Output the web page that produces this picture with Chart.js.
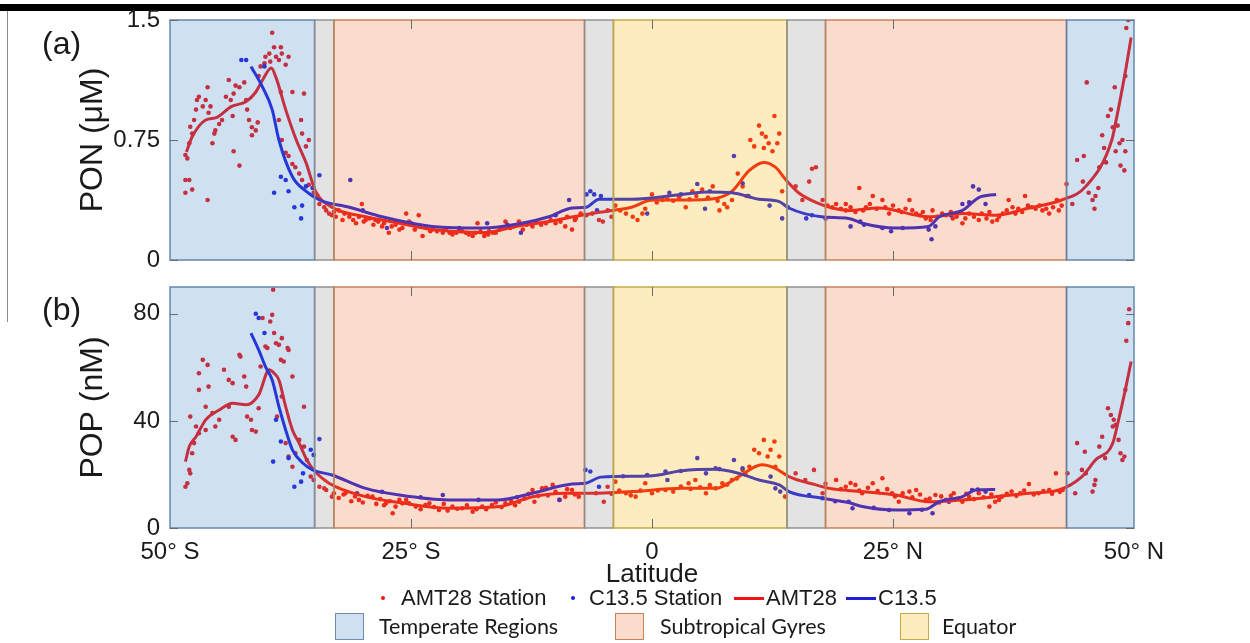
<!DOCTYPE html>
<html><head><meta charset="utf-8">
<script src="https://cdn.jsdelivr.net/npm/chart.js@4.4.1/dist/chart.umd.min.js"></script>
<style>
html,body{margin:0;padding:0;background:#fff;width:1250px;height:643px;overflow:hidden;position:relative;font-family:'Liberation Sans',Arial,sans-serif;color:#1a1a1a;}
#topbar{position:absolute;left:0;top:4px;width:1250px;height:7px;background:#000;}
#vline{position:absolute;left:7px;top:11px;width:1px;height:311px;background:#8a8a8a;}
.wrap{position:absolute;left:0;width:1250px;}
#wa{top:0;height:285px;}
#wb{top:280px;height:320px;}
.plab{position:absolute;font-size:32px;line-height:32px;white-space:nowrap;}
.lg{position:absolute;font-size:22px;line-height:24px;height:24px;top:586px;white-space:nowrap;}
.dot{position:absolute;width:4px;height:4px;border-radius:50%;top:596px;}
.ln{position:absolute;height:3px;top:597px;width:30px;}
.rg{position:absolute;font-family:Lato,'Open Sans',sans-serif;font-size:21.5px;line-height:24px;top:614px;white-space:nowrap;}
.sq{position:absolute;width:29px;height:27px;top:613px;box-sizing:border-box;border:1.5px solid;}
</style>
</head>
<body>
<div id="topbar"></div>
<div id="vline"></div>
<div class="wrap" id="wa"><canvas id="ca"></canvas></div>
<div class="wrap" id="wb"><canvas id="cb"></canvas></div>
<div class="plab" style="left:42px;top:27px;">(a)</div>
<div class="plab" style="left:42px;top:293px;">(b)</div>

<div class="dot" style="left:381px;background:rgb(240,20,20);"></div>
<div class="lg" style="left:401px;">AMT28 Station</div>
<div class="dot" style="left:571px;background:rgb(30,30,220);"></div>
<div class="lg" style="left:589px;">C13.5 Station</div>
<div class="ln" style="left:734px;background:rgb(240,20,20);"></div>
<div class="lg" style="left:766px;">AMT28</div>
<div class="ln" style="left:846px;background:rgb(30,30,220);"></div>
<div class="lg" style="left:878px;">C13.5</div>

<div class="sq" style="left:335px;background:rgb(207,224,241);border-color:rgb(110,140,175);"></div>
<div class="rg" style="left:379px;">Temperate Regions</div>
<div class="sq" style="left:615px;background:rgb(249,220,203);border-color:rgb(200,130,90);"></div>
<div class="rg" style="left:660px;">Subtropical Gyres</div>
<div class="sq" style="left:900px;background:rgb(253,236,190);border-color:rgb(200,170,70);"></div>
<div class="rg" style="left:942px;">Equator</div>

<script>
// ---------------- DATA ----------------
const xTickValues = [-50, -25, 0, 25, 50];
const xTickLabels = ['50° S', '25° S', '0', '25° N', '50° N'];
const yTickValuesA = [0, 0.75, 1.5];
const yTickLabelsA = ['0', '0.75', '1.5'];
const yTickValuesB = [0, 40, 80];
const yTickLabelsB = ['0', '40', '80'];

// region boundaries (latitude)
const regionStart = [-50, -35, -33, -7, -4, 14, 18, 43];
const regionEnd   = [-35, -33, -7, -4, 14, 18, 43, 50];
const regionKind  = ['temperate', 'transition', 'gyre', 'transition', 'equator', 'transition', 'gyre', 'temperate'];

// Panel (a) PON (µM) — [latitude, value]
const amtStationPON = [
[-48.4,0.656],[-48.2,0.635],[-48.0,0.729],[-47.9,0.833],[-47.7,0.79],[-47.5,0.875],[-47.3,0.94],[-47.2,1.0],[-47.0,1.02],[-46.6,0.96],[-46.3,1.0],[-46.1,1.08],[-46.0,0.92],[-45.8,0.96],[-45.6,0.73],[-45.4,0.79],[-45.3,0.81],[-44.9,0.85],[-44.6,0.875],[-44.2,1.02],[-43.9,1.125],[-43.7,1.0],[-43.5,0.9],[-43.4,1.04],[-43.2,1.09],[-42.8,1.08],[-42.3,1.11],[-42.1,1.0],[-42.0,0.94],[-41.8,0.875],[-41.5,0.83],[-41.1,0.81],[-40.8,1.15],[-40.6,1.21],[-40.2,1.23],[-40.1,1.27],[-39.7,1.29],[-39.6,1.24],[-39.4,1.42],[-39.2,1.33],[-39.0,1.27],[-38.7,1.25],[-38.5,1.33],[-38.4,1.29],[-38.0,1.22],[-37.7,1.27],[-37.3,1.05],[-36.4,0.875],[-36.3,0.79],[-36.1,1.04],[-35.9,0.71],[-35.6,0.75],
[-48.4,0.5],[-48.0,0.5],[-48.4,0.42],[-47.7,0.44],[-46.1,0.375],[-43.4,0.68],[-42.8,0.59],[-41.5,0.78],[-40.9,0.86],[-38.7,0.875],[-38.5,1.05],[-38.4,0.75],[-38.0,0.67],[-37.7,0.65],[-37.3,0.60],[-37.0,0.58],[-36.6,0.54],[-36.3,0.5],[-35.6,0.47],[-35.1,0.42],[-34.7,0.40],[-34.5,0.35],[-33.8,0.31],[-33.5,0.29],[-33.2,0.28],[-32.5,0.31],[-32.1,0.25],[-31.4,0.27],[-30.7,0.23],[-30.1,0.35],[-29.7,0.25],[-28.7,0.25],[-28.0,0.21],[-27.3,0.17],[-26.2,0.19],[-25.5,0.29],[-24.9,0.22],
[-25.2,0.24],[-24.2,0.28],[-23.8,0.15],[-22.8,0.19],[-21.7,0.17],[-20.7,0.16],[-20.0,0.19],[-19.3,0.17],[-18.6,0.15],[-18.1,0.23],[-17.4,0.15],[-16.9,0.18],[-16.2,0.17],[-15.2,0.24],[-14.7,0.20],[-13.8,0.24],[-12.4,0.21],[-11.0,0.23],[-10.0,0.23],[-9.0,0.21],[-8.3,0.19],[-7.9,0.26],[-7.4,0.29],[-6.2,0.29],[-5.5,0.25],[-5.1,0.24],[-4.6,0.31],[-3.8,0.34],[-2.7,0.29],[-2.0,0.27],[-1.5,0.25],[-0.7,0.32],[0.0,0.41],[1.1,0.375],[3.5,0.33],[4.2,0.43],[5.2,0.44],[6.3,0.46],[7.0,0.31],[7.5,0.35],[8.3,0.375],[8.9,0.54],[9.4,0.46],[10.2,0.75],[10.6,0.71],[11.1,0.84],[11.4,0.79],[11.6,0.70],[11.8,0.77],[12.1,0.73],[12.5,0.68],[12.7,0.90],[13.0,0.73],[13.2,0.79],[13.5,0.43],[14.9,0.46],[15.6,0.375],[16.3,0.49],[16.6,0.57],[17.0,0.58],[17.7,0.375],[18.7,0.33],[20.1,0.35],
[19.1,0.35],[20.1,0.31],[21.5,0.45],[22.2,0.33],[22.9,0.40],[23.9,0.375],[24.6,0.29],[25.6,0.31],[26.7,0.375],[27.4,0.29],[28.4,0.26],[29.1,0.31],[30.1,0.29],[31.2,0.26],[32.2,0.23],[32.9,0.29],[33.9,0.25],[35.3,0.24],[36.0,0.27],[37.0,0.375],[37.7,0.29],[38.7,0.40],[39.4,0.33],[40.5,0.31],[41.2,0.29],[42.0,0.375],[42.2,0.31],[43.0,0.475],[43.6,0.35],[44.1,0.625],[44.7,0.49],[44.8,0.65],[45.1,1.11],[45.3,0.42],[45.7,0.375],[45.9,0.32],[46.0,0.40],[46.3,0.45],[46.4,0.58],[46.7,0.78],[46.9,0.70],[47.1,0.61],[47.3,0.90],[47.6,0.94],[47.8,0.83],[48.0,1.08],[48.1,0.68],[48.3,0.84],[48.5,0.73],[48.6,0.59],[48.8,0.75],[49.0,0.56],[49.1,0.68],[49.1,1.15],[49.2,1.45],[49.4,1.5],
[-34.0,0.33],[-33.0,0.30],[-32.8,0.27],[-31.9,0.29],[-31.0,0.25],[-30.4,0.27],[-29.9,0.24],[-29.3,0.26],[-28.9,0.22],[-28.4,0.24],[-27.8,0.23],[-27.0,0.21],[-26.6,0.22],[-25.9,0.20],[-24.6,0.19],[-23.4,0.20],[-23.0,0.18],[-22.3,0.18],[-21.4,0.19],[-21.0,0.17],[-20.3,0.17],[-19.7,0.18],[-19.0,0.16],[-18.3,0.17],[-17.8,0.18],[-17.0,0.16],[-16.5,0.17],[-15.8,0.19],[-14.4,0.21],[-13.4,0.19],[-13.0,0.22],[-12.0,0.24],[-11.5,0.22],[-10.5,0.25],[-9.5,0.24],[-8.8,0.27],[-8.0,0.25],
[-6.8,0.28],[-4.2,0.27],[-3.3,0.31],[-1.0,0.29],[0.5,0.36],[1.6,0.38],[2.2,0.37],[2.8,0.39],[3.9,0.38],[4.6,0.40],[5.8,0.39],[6.8,0.37],[7.8,0.33],[9.8,0.40],
[18.2,0.34],[19.6,0.32],[20.6,0.33],[21.1,0.30],[21.9,0.31],[22.6,0.35],[23.3,0.32],[24.2,0.33],[25.0,0.34],[25.9,0.30],[26.3,0.32],[27.0,0.31],[27.8,0.28],[28.1,0.30],[28.9,0.25],[29.6,0.27],[30.5,0.28],[31.0,0.30],[31.6,0.27],[32.5,0.26],[33.4,0.27],[34.2,0.29],[34.7,0.26],[35.0,0.30],[35.8,0.25],[36.4,0.29],[36.8,0.31],[37.4,0.33],[38.0,0.32],[38.4,0.30],[39.0,0.34],[39.8,0.32],[40.2,0.34],[40.9,0.32],[41.6,0.33],[42.5,0.34]
];
const c135StationPON = [
[-42.6,1.25],[-42.1,1.25],[-40.2,1.21],[-38.5,0.52],[-38.0,0.50],[-39.2,0.42],[-37.7,0.43],[-37.1,0.33],[-36.4,0.26],[-36.3,0.34],[-35.9,0.46],[-35.2,0.45],[-34.5,0.53],[-31.3,0.50],[-27.5,0.20],[-8.6,0.375],[-6.8,0.41],[-6.4,0.43],[-6.0,0.41],[-5.3,0.40],[-5.7,0.31],[-0.5,0.29],[1.8,0.42],[4.7,0.475],[5.5,0.32],[8.5,0.65],[9.4,0.48],[12.2,0.34],[13.5,0.26],[14.1,0.33],[16.0,0.26],[16.6,0.28],[-13.6,0.17],[-17.1,0.23],[20.6,0.21],[21.6,0.24],[23.9,0.20],[24.8,0.18],[28.7,0.19],[29.0,0.13],[29.4,0.21],[32.2,0.35],[32.9,0.36],[33.3,0.46],[33.9,0.44],[34.6,0.35],
[-30.0,0.31],[-25.0,0.23],[-20.0,0.20],[-15.0,0.22],[-10.0,0.28],[0.0,0.38],[3.0,0.41],[6.0,0.43],[10.0,0.40],[18.0,0.26],[22.0,0.22],[26.0,0.20],[31.0,0.28]
];
const amtLinePON = [
[-48.3,0.675],[-47.7,0.77],[-46.3,0.875],[-45.2,0.89],[-43.6,0.96],[-42.1,0.99],[-41.1,1.05],[-40.4,1.125],[-39.5,1.2],[-39.0,1.14],[-38.0,0.94],[-36.9,0.75],[-35.9,0.61],[-34.9,0.43],[-33.2,0.33],[-29.7,0.27],[-26.2,0.23],[-22.8,0.19],[-17.6,0.17],[-14.1,0.21],[-10.7,0.24],[-7.3,0.28],[-4.1,0.31],[-2.1,0.33],[0.0,0.375],[3.1,0.375],[6.6,0.385],[8.3,0.43],[10.1,0.56],[11.6,0.61],[12.8,0.58],[13.9,0.50],[15.2,0.42],[17.0,0.36],[18.7,0.325],[20.4,0.31],[23.5,0.325],[28.7,0.27],[32.2,0.29],[35.7,0.28],[39.1,0.325],[42.5,0.375],[45.0,0.46],[47.7,0.75],[48.1,0.86],[49.2,1.21],[49.7,1.39]
];
const c135LinePON = [
[-41.6,1.21],[-40.4,1.08],[-39.4,0.94],[-38.7,0.75],[-37.3,0.52],[-35.9,0.43],[-34.5,0.375],[-31.4,0.33],[-28.0,0.27],[-24.5,0.225],[-22.8,0.21],[-17.6,0.20],[-13.5,0.23],[-10.7,0.27],[-8.3,0.325],[-6.8,0.33],[-5.5,0.38],[-2.1,0.38],[3.1,0.41],[5.9,0.425],[8.3,0.42],[11.1,0.38],[13.2,0.365],[14.2,0.325],[17.6,0.27],[20.4,0.26],[21.8,0.23],[25.3,0.20],[28.7,0.21],[29.8,0.27],[32.2,0.31],[33.9,0.39],[35.7,0.41]
];

// Panel (b) POP (nM) — [latitude, value]
const amtStationPOP = [
[-48.4,15.4],[-48.2,16.7],[-48.0,21.7],[-47.9,20.4],[-47.7,27.9],[-47.5,31.7],[-47.9,41.6],[-47.3,37.9],[-47.0,35.4],[-46.6,62.8],[-46.1,60.9],[-46.3,36.6],[-47.0,57.8],[-47.0,51.6],[-46.0,52.8],[-46.3,45.3],[-45.6,42.9],[-45.3,37.9],[-44.9,40.4],[-44.4,59.1],[-43.9,55.3],[-43.5,54.1],[-43.9,45.3],[-43.5,34.1],[-43.2,32.9],[-42.8,64.7],[-42.7,64.0],[-42.3,56.6],[-42.1,52.8],[-42.0,41.6],[-41.6,40.4],[-41.5,36.6],[-41.1,36.0],[-40.8,44.7],[-40.6,60.3],[-40.4,78.4],[-40.1,67.8],[-39.9,67.2],[-39.6,77.1],[-39.4,79.6],[-39.3,89.0],[-39.2,72.8],[-39.0,69.0],[-38.7,68.4],[-38.5,62.8],[-38.4,70.9],[-38.2,62.2],[-37.8,67.2],[-37.7,66.5],[-37.3,56.6],[-36.1,45.3],[-38.4,49.1],[-38.9,41.6],[-38.0,31.7],[-37.7,26.7],[-37.3,22.9],[-37.0,27.9],[-36.6,32.9],[-36.1,30.4],[-35.8,25.4],[-35.4,19.2],[-35.1,17.9],[-34.5,15.4],[-33.8,14.2],[-33.2,11.7],[-31.8,13.0],[-30.4,10.5],[-29.0,11.7],[-27.6,9.2],[-26.2,10.5],[-25.2,9.2],[-24.5,8.0],[-26.9,5.5],
[-25.5,10.5],[-23.1,9.2],[-22.1,6.7],[-20.7,8.0],[-19.7,7.4],[-18.6,6.1],[-17.6,8.0],[-16.6,8.6],[-15.2,9.2],[-13.8,9.8],[-12.4,14.2],[-12.2,9.8],[-11.4,14.8],[-10.3,16.1],[-9.6,10.5],[-9.0,11.7],[-8.3,14.2],[-7.6,11.7],[-5.8,13.0],[-5.0,9.8],[-4.6,15.4],[-3.8,17.3],[-2.7,13.0],[-1.7,11.7],[-0.7,16.7],[0.0,13.0],[1.4,14.2],[3.8,16.7],[4.5,17.9],[5.6,13.0],[6.6,14.8],[7.3,16.7],[8.3,17.9],[9.4,21.7],[10.1,22.9],[10.6,29.2],[11.1,27.9],[11.6,32.9],[12.0,26.7],[12.3,29.2],[12.7,32.3],[13.2,26.7],[12.8,22.9],[13.8,11.7],[14.9,20.4],[15.9,17.9],[16.8,21.7],[17.7,13.0],[19.1,17.9],[20.1,15.4],
[21.1,16.1],[21.8,13.0],[22.9,16.7],[23.9,18.6],[24.9,13.0],[25.6,9.8],[26.7,13.6],[27.4,14.2],[28.4,10.5],[29.4,12.3],[30.5,10.5],[31.3,13.0],[32.2,9.8],[32.9,11.7],[33.9,13.0],[35.0,8.0],[35.6,9.8],[36.3,11.7],[37.3,13.6],[38.2,13.0],[39.1,16.4],[40.1,13.0],[41.2,14.2],[41.9,20.4],[42.6,14.2],[43.1,20.4],[43.9,13.0],[44.1,31.7],[44.6,21.7],[45.0,20.4],[44.9,28.5],[45.7,13.6],[45.9,16.1],[46.0,17.9],[46.4,30.4],[46.7,34.1],[47.0,26.1],[47.3,44.7],[47.6,42.2],[47.8,37.9],[47.9,40.4],[48.1,38.5],[48.4,32.9],[48.6,27.9],[48.8,25.4],[49.0,26.7],[49.1,51.6],[49.2,69.9],[49.4,76.5],[49.5,81.7],
[-34.0,14.8],[-33.0,13.0],[-32.5,11.2],[-32.0,12.5],[-31.2,10.0],[-30.8,11.8],[-30.0,9.5],[-29.5,12.0],[-28.6,9.0],[-28.2,10.8],[-27.8,8.5],[-27.2,10.0],[-26.6,8.0],[-25.9,9.2],[-24.0,7.0],[-23.5,8.6],[-22.6,7.8],[-21.6,9.0],[-21.2,6.5],[-20.2,7.2],[-19.2,8.5],[-18.2,7.0],[-17.2,7.0],[-16.2,9.5],[-15.6,7.8],[-14.6,10.0],[-14.2,8.5],[-13.2,11.0],[-12.8,12.8],[-11.8,12.0],[-11.0,15.0],[-10.8,12.2],[-10.0,13.5],[-8.8,14.5],[-8.0,12.5],
[-4.2,12.8],[-3.4,14.0],[-2.2,12.2],[-1.2,14.0],[0.6,14.0],[2.2,13.6],[3.0,15.5],[4.0,14.6],[5.0,15.2],[6.0,16.0],[7.8,16.2],[8.8,18.5],[9.7,20.0],
[18.0,16.5],[19.6,14.5],[20.6,16.8],[21.5,14.0],[22.4,15.0],[23.4,13.8],[24.4,14.5],[25.2,11.8],[26.0,13.0],[27.0,11.5],[27.8,12.5],[28.8,11.0],[29.8,9.5],[30.0,11.8],[31.0,12.0],[31.8,11.0],[32.6,12.8],[33.4,10.8],[34.4,11.5],[35.2,12.5],[36.0,10.5],[36.8,12.8],[37.8,12.0],[38.6,14.0],[39.6,12.5],[40.6,13.8],[41.5,12.8],[42.3,13.5]
];
const c135StationPOP = [
[-41.1,80.0],[-40.8,78.4],[-40.2,72.8],[-39.0,40.4],[-39.3,24.8],[-38.5,32.3],[-37.7,26.1],[-37.1,15.4],[-36.4,17.3],[-36.2,20.4],[-35.4,29.2],[-34.5,33.2],[-35.1,27.3],[-30.6,13.0],[-21.7,12.3],[-9.6,10.5],[-6.9,21.7],[-6.4,21.1],[-5.5,15.4],[-0.5,19.8],[1.4,21.1],[1.6,17.9],[4.7,26.1],[5.6,20.4],[6.6,22.3],[8.5,25.4],[9.4,22.3],[12.3,19.2],[12.8,14.8],[13.3,13.6],[16.3,12.3],[17.7,11.1],[20.4,9.8],[20.8,7.4],[24.6,6.7],[26.7,5.5],[29.1,5.5],[30.8,9.8],[33.2,14.2],[33.8,14.4],[34.6,13.6],
[-28.0,13.5],[-24.0,11.5],[-18.0,10.5],[-14.0,11.5],[-3.0,19.3],[3.0,21.3],[7.0,22.0],[19.0,10.0],[23.0,7.5],[28.0,6.8]
];
const amtLinePOP = [
[-48.4,24.8],[-48.0,30.4],[-47.3,34.1],[-46.3,40.4],[-44.9,44.1],[-43.5,46.6],[-42.1,46.0],[-40.8,49.7],[-39.7,59.1],[-39.2,57.8],[-38.7,55.3],[-38.0,45.3],[-37.3,36.6],[-36.6,31.7],[-35.8,25.4],[-35.1,21.7],[-33.5,16.7],[-29.7,11.7],[-26.2,9.5],[-21.1,7.4],[-15.9,8.0],[-12.4,11.7],[-9.0,13.0],[-5.5,13.0],[-2.0,13.6],[3.1,14.8],[6.6,14.8],[9.0,19.2],[11.4,23.6],[12.8,22.3],[14.2,19.2],[17.0,16.1],[18.4,14.8],[21.8,13.6],[25.3,12.3],[28.7,9.8],[32.2,10.5],[35.6,11.7],[39.1,13.0],[42.2,14.2],[44.6,19.2],[46.0,25.4],[47.8,31.7],[48.4,40.4],[49.1,51.6],[49.7,62.2]
];
const c135LinePOP = [
[-41.6,72.8],[-40.8,66.5],[-40.1,60.3],[-39.4,55.3],[-38.7,45.3],[-38.0,36.6],[-37.3,29.2],[-36.2,24.2],[-35.2,21.7],[-33.2,19.8],[-29.7,14.8],[-26.2,12.3],[-21.1,10.5],[-15.9,10.5],[-12.4,13.0],[-8.3,16.4],[-6.9,16.7],[-5.3,19.0],[-0.3,19.4],[3.1,21.4],[6.6,21.9],[9.0,20.4],[11.1,17.9],[13.2,16.1],[14.2,13.6],[17.7,11.1],[20.4,9.5],[21.8,8.0],[25.3,6.7],[28.4,7.0],[29.8,9.8],[32.2,11.7],[33.6,14.2],[35.6,14.4]
];

// ---------------- STYLE ----------------
const RED = 'rgb(240,20,20)';
const BLUE = 'rgb(30,30,220)';
const FONT = "'Liberation Sans', Arial, sans-serif";
const regionStyle = {
  temperate:  {fill: 'rgba(64,132,200,0.25)',  edge: 'rgba(95,130,170,0.95)'},
  transition: {fill: 'rgba(144,144,144,0.25)', edge: 'rgba(140,140,140,0.95)'},
  gyre:       {fill: 'rgba(232,116,48,0.25)',  edge: 'rgba(195,125,85,0.95)'},
  equator:    {fill: 'rgba(248,180,0,0.25)',   edge: 'rgba(195,165,60,0.95)'}
};

const pts = arr => arr.map(p => ({x: p[0], y: p[1]}));

const regionPlugin = {
  id: 'regions',
  afterDatasetsDraw(chart, args, opts) {
    const {ctx, scales: {x, y}} = chart;
    const yTop = y.getPixelForValue(y.max), yBot = y.getPixelForValue(y.min);
    ctx.save();
    regionStart.forEach((s, i) => {
      const x0 = x.getPixelForValue(s), x1 = x.getPixelForValue(regionEnd[i]);
      ctx.fillStyle = regionStyle[regionKind[i]].fill;
      ctx.fillRect(x0, yTop, x1 - x0, yBot - yTop);
    });
    ctx.lineWidth = 1.5;
    regionStart.forEach((s, i) => {
      const x0 = x.getPixelForValue(s), x1 = x.getPixelForValue(regionEnd[i]);
      ctx.strokeStyle = regionStyle[regionKind[i]].edge;
      ctx.strokeRect(x0, yTop, x1 - x0, yBot - yTop);
    });
    // inside tick marks
    ctx.strokeStyle = '#6a6a6a';
    ctx.lineWidth = 1;
    const xl = x.getPixelForValue(x.min), xr = x.getPixelForValue(x.max);
    opts.yTicks.forEach(v => {
      const py = Math.round(y.getPixelForValue(v)) + 0.5;
      ctx.beginPath(); ctx.moveTo(xl, py); ctx.lineTo(xl + 8, py); ctx.stroke();
      ctx.beginPath(); ctx.moveTo(xr - 8, py); ctx.lineTo(xr, py); ctx.stroke();
    });
    xTickValues.slice(1, -1).forEach(v => {
      const px = Math.round(x.getPixelForValue(v)) + 0.5;
      ctx.beginPath(); ctx.moveTo(px, yTop); ctx.lineTo(px, yTop + 9); ctx.stroke();
      ctx.beginPath(); ctx.moveTo(px, yBot - 9); ctx.lineTo(px, yBot); ctx.stroke();
    });
    ctx.restore();
  }
};

function datasets(amtSt, cSt, amtLn, cLn) {
  return [
    {data: pts(cLn), showLine: true, borderColor: BLUE, borderWidth: 3, pointRadius: 0, cubicInterpolationMode: 'monotone'},
    {data: pts(amtLn), showLine: true, borderColor: RED, borderWidth: 3, pointRadius: 0, cubicInterpolationMode: 'monotone'},
    {data: pts(cSt), showLine: false, backgroundColor: BLUE, pointRadius: 2.3, pointBorderWidth: 0},
    {data: pts(amtSt), showLine: false, backgroundColor: RED, pointRadius: 2.3, pointBorderWidth: 0}
  ];
}

function yAxis(min, max, tv, tl, title) {
  return {
    type: 'linear', min: min, max: max,
    afterBuildTicks: s => { s.ticks = tv.map(v => ({value: v})); },
    afterFit: s => { s.width = 96; s.paddingTop = 0; s.paddingBottom = 0; },
    ticks: {callback: v => tl[tv.indexOf(v)], padding: 10, color: '#1a1a1a', font: {family: FONT, size: 24}},
    grid: {display: false, drawTicks: false}, border: {display: false},
    title: {display: true, text: title, color: '#1a1a1a', padding: 0, font: {family: FONT, size: 32}}
  };
}

Chart.defaults.animation = false;

new Chart(document.getElementById('ca'), {
  type: 'scatter',
  data: {datasets: datasets(amtStationPON, c135StationPON, amtLinePON, c135LinePON)},
  options: {
    responsive: true, maintainAspectRatio: false, events: [], devicePixelRatio: 1,
    layout: {padding: {left: 74, right: 116, top: 20, bottom: 25}},
    plugins: {legend: {display: false}, tooltip: {enabled: false}, regions: {yTicks: yTickValuesA}},
    scales: {
      x: {type: 'linear', min: -50, max: 50, display: false},
      y: yAxis(0, 1.5, yTickValuesA, yTickLabelsA, 'PON (μM)')
    }
  },
  plugins: [regionPlugin]
});

new Chart(document.getElementById('cb'), {
  type: 'scatter',
  data: {datasets: datasets(amtStationPOP, c135StationPOP, amtLinePOP, c135LinePOP)},
  options: {
    responsive: true, maintainAspectRatio: false, events: [], devicePixelRatio: 1,
    layout: {padding: {left: 74, right: 116, top: 7, bottom: 10}},
    plugins: {legend: {display: false}, tooltip: {enabled: false}, regions: {yTicks: yTickValuesB}},
    scales: {
      x: {
        type: 'linear', min: -50, max: 50,
        afterBuildTicks: s => { s.ticks = xTickValues.map(v => ({value: v})); },
        afterFit: s => { s.height = 62; s.paddingLeft = 0; s.paddingRight = 0; },
        ticks: {callback: v => xTickLabels[xTickValues.indexOf(v)], padding: 10, maxRotation: 0, autoSkip: false, color: '#1a1a1a', font: {family: FONT, size: 24}},
        grid: {display: false, drawTicks: false}, border: {display: false},
        title: {display: true, text: 'Latitude', color: '#1a1a1a', padding: 0, font: {family: FONT, size: 26}}
      },
      y: yAxis(0, 90, yTickValuesB, yTickLabelsB, 'POP (nM)')
    }
  },
  plugins: [regionPlugin]
});
</script>
</body></html>
